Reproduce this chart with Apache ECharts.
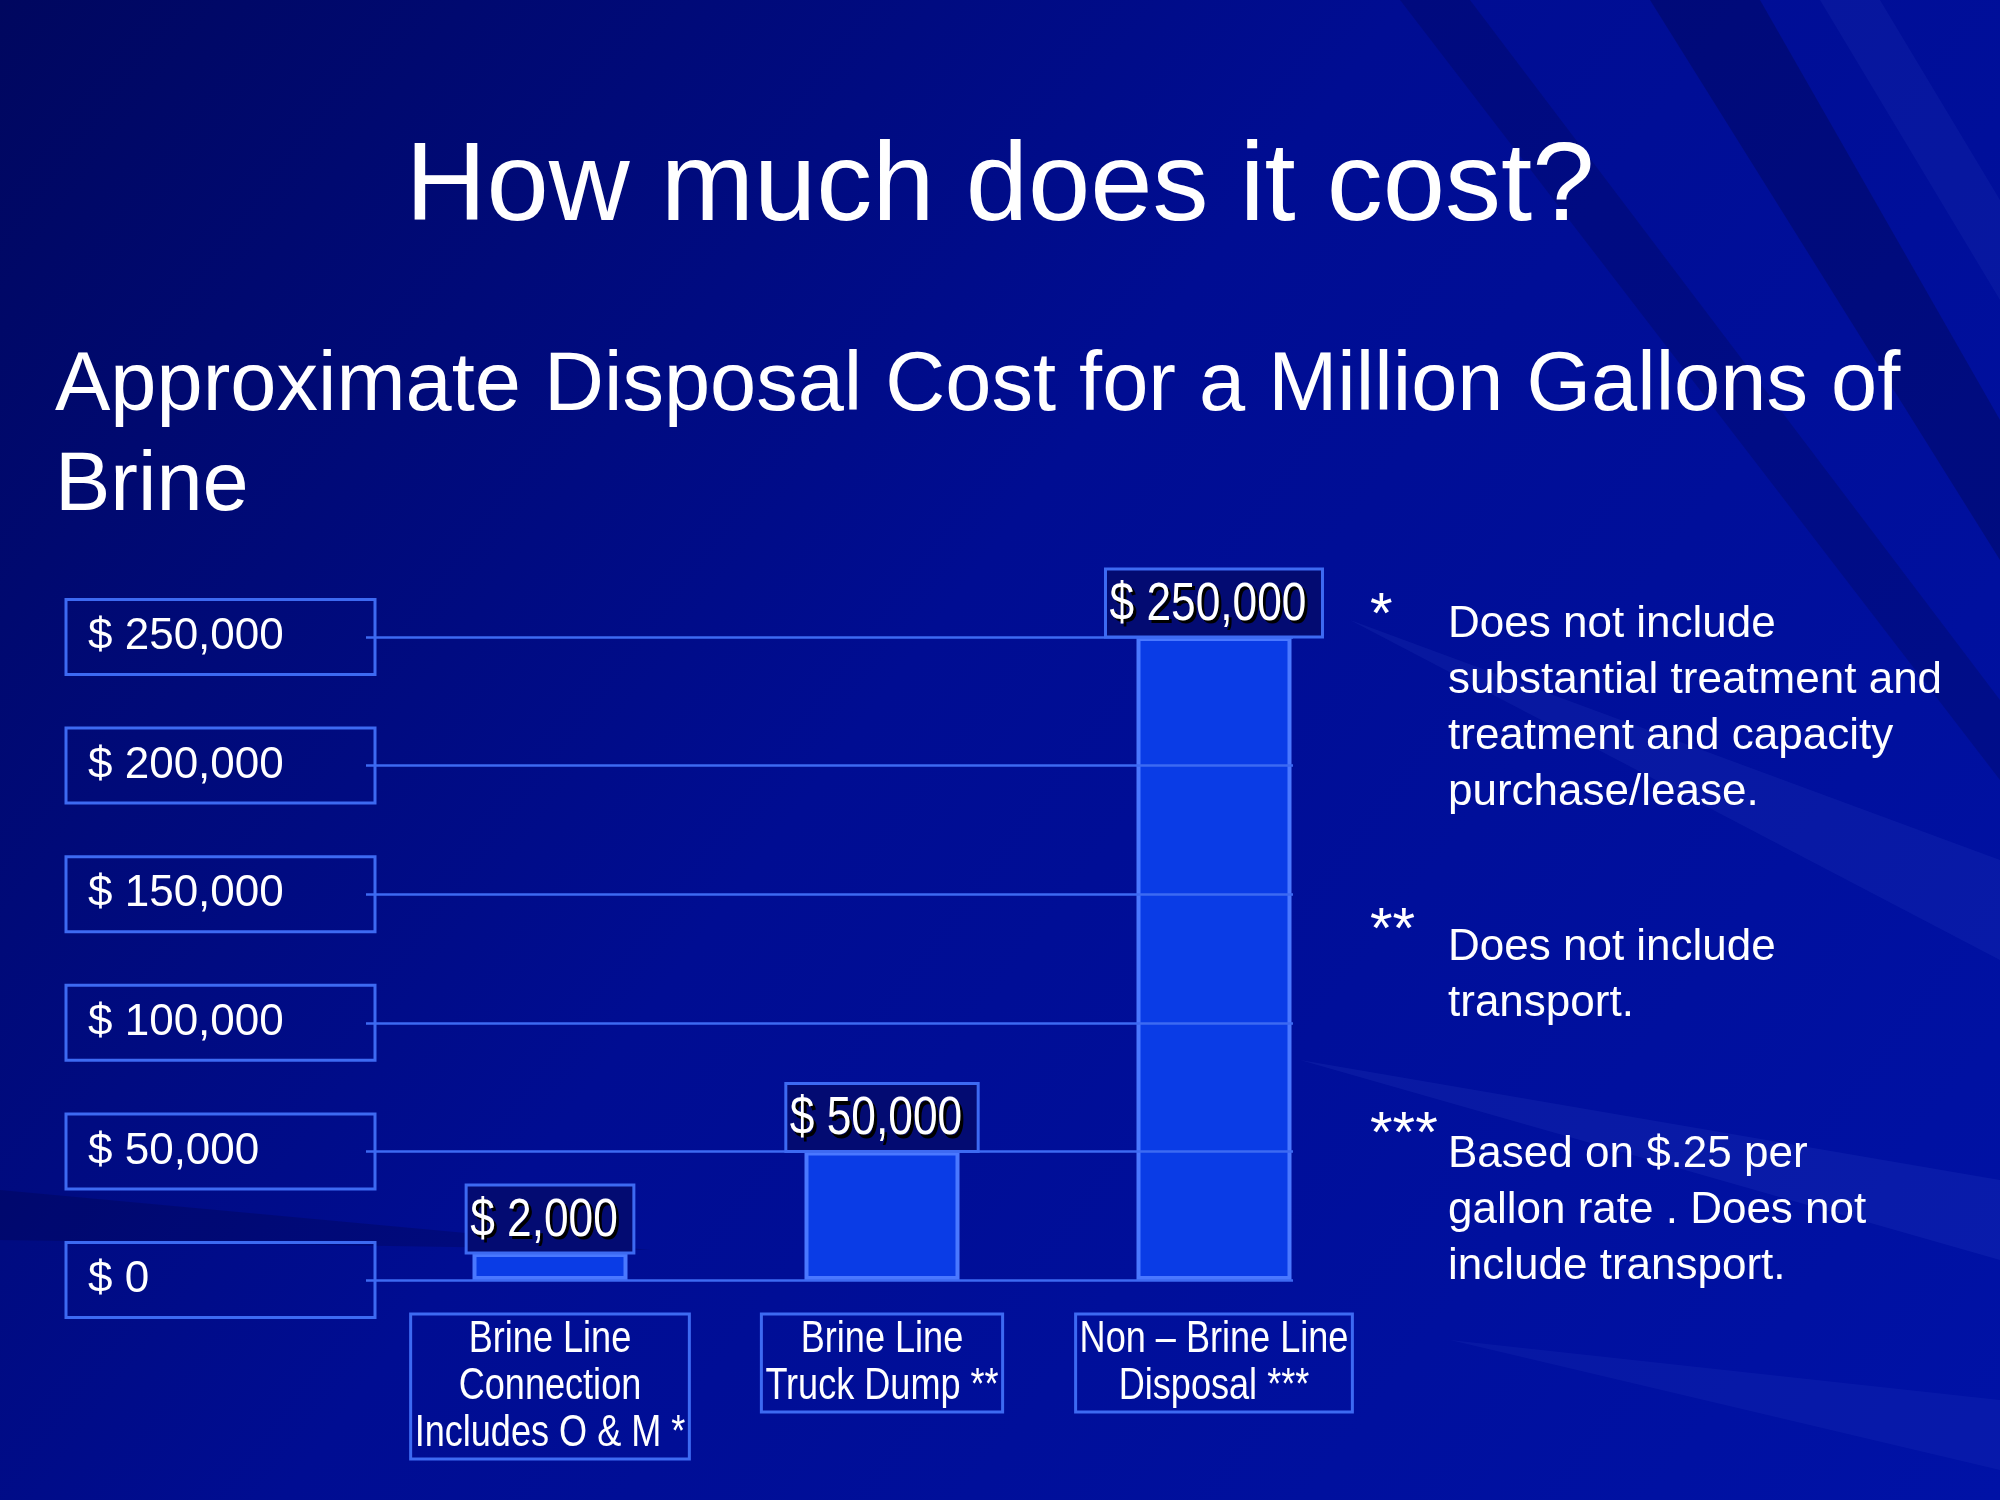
<!DOCTYPE html>
<html>
<head>
<meta charset="utf-8">
<title>How much does it cost?</title>
<script src="https://cdn.jsdelivr.net/npm/echarts@6/dist/echarts.min.js"></script>
<style>
  html, body { margin: 0; padding: 0; background: #000c8c; }
  #chart { width: 2000px; height: 1500px; }
</style>
</head>
<body>
<div id="chart"></div>
<script>
// data
const categories = [
  'Brine Line\nConnection\nIncludes O & M *',
  'Brine Line\nTruck Dump **',
  'Non \u2013 Brine Line\nDisposal ***'
];
const costs = [2000, 50000, 250000];
const yTicks = [0, 50000, 100000, 150000, 200000, 250000];
const yTickLabels = ['$ 0', '$ 50,000', '$ 100,000', '$ 150,000', '$ 200,000', '$ 250,000'];

const titleText = 'How much does it cost?';
const subtitleText = 'Approximate Disposal Cost for a Million Gallons of\nBrine';
const noteMarks = ['*', '**', '***'];
const noteTexts = [
  'Does not include\nsubstantial treatment and\ntreatment and capacity\npurchase/lease.',
  'Does not include\ntransport.',
  'Based on $.25 per\ngallon rate . Does not\ninclude transport.'
];

const SANS = '"Liberation Sans", Arial, Helvetica, sans-serif';
const LINE = '#3d6af2';
const NARROW = 0.82;      // squeeze Liberation Sans to look like Arial Narrow
const MIN_BAR = 27;       // the tiny bar is drawn taller on the slide

// text measuring for the boxed labels
const measureCtx = document.createElement('canvas').getContext('2d');
function textWidth(str, size) {
  measureCtx.font = size + 'px ' + SANS;
  return measureCtx.measureText(str).width * NARROW;
}
function money(v) {
  return '$ ' + v.toLocaleString('en-US');
}

const chart = echarts.init(document.getElementById('chart'));

// soft light / dark streaks in the background
const streaks = [
  { pts: [[1650, 0], [1760, 0], [2000, 420], [2000, 560]], fill: 'rgba(0,0,40,0.25)' },
  { pts: [[1400, 0], [1470, 0], [2000, 700], [2000, 780]], fill: 'rgba(0,0,40,0.18)' },
  { pts: [[1820, 0], [1880, 0], [2000, 200], [2000, 300]], fill: 'rgba(120,150,255,0.06)' },
  { pts: [[2000, 860], [2000, 960], [1350, 620]], fill: 'rgba(120,150,255,0.07)' },
  { pts: [[2000, 1180], [2000, 1260], [1300, 1060]], fill: 'rgba(120,150,255,0.08)' },
  { pts: [[2000, 1400], [2000, 1470], [1450, 1340]], fill: 'rgba(120,150,255,0.06)' },
  { pts: [[0, 1190], [0, 1240], [650, 1250]], fill: 'rgba(0,0,40,0.2)' }
].map(function (s) {
  return {
    type: 'polygon',
    silent: true,
    z: -10,
    shape: { points: s.pts },
    style: { fill: s.fill }
  };
});

// footnotes on the right
const notes = [];
const markTops = [582, 897, 1101];
const noteTops = [597, 920, 1127];
noteMarks.forEach(function (m, i) {
  notes.push({
    type: 'text', left: 1370, top: markTops[i], silent: true,
    style: { text: m, fill: '#fff', font: '58px ' + SANS, lineHeight: 70 }
  });
  notes.push({
    type: 'text', left: 1448, top: noteTops[i], silent: true,
    style: { text: noteTexts[i], fill: '#fff', font: '44px ' + SANS, lineHeight: 56 }
  });
});

// boxed value label sitting on top of each bar
function renderValueLabel(params, api) {
  const i = api.value(0);
  const v = api.value(1);
  const base = api.coord([i, 0]);
  const top = api.coord([i, v]);
  const barTop = Math.min(top[1], base[1] - MIN_BAR);
  const str = money(v);
  const w = textWidth(str, 54) + 20;
  const h = 68;
  const left = base[0] - w / 2;
  const y0 = barTop - h;
  const textStyle = { text: str, x: 0, y: 0, font: '54px ' + SANS, align: 'left', verticalAlign: 'middle' };
  return {
    type: 'group',
    children: [
      {
        type: 'rect',
        shape: { x: left, y: y0, width: w, height: h },
        style: { fill: '#030b72', stroke: LINE, lineWidth: 3 }
      },
      {
        type: 'group', x: left + 4, y: y0 + h / 2 + 2, scaleX: NARROW,
        children: [
          { type: 'text', x: 3.5, y: 3.5, style: Object.assign({}, textStyle, { fill: '#000' }) },
          { type: 'text', style: Object.assign({}, textStyle, { fill: '#fff' }) }
        ]
      }
    ]
  };
}

// boxed category label under each bar
function renderCategoryLabel(params, api) {
  const i = api.value(0);
  const base = api.coord([i, 0]);
  const lines = categories[i].split('\n');
  const lh = 47;
  let maxW = 0;
  lines.forEach(function (l) { maxW = Math.max(maxW, textWidth(l, 44)); });
  const w = maxW + 8;
  const h = lines.length * lh + 4;
  const y0 = base[1] + 34;
  return {
    type: 'group',
    children: [
      {
        type: 'rect',
        shape: { x: base[0] - w / 2, y: y0, width: w, height: h },
        style: { fill: 'transparent', stroke: LINE, lineWidth: 3 }
      },
      {
        type: 'group', x: base[0], y: y0 + 2, scaleX: NARROW,
        children: [{
          type: 'text',
          style: {
            text: categories[i], x: 0, y: 0, fill: '#fff', font: '44px ' + SANS,
            lineHeight: lh, align: 'center', verticalAlign: 'top'
          }
        }]
      }
    ]
  };
}

const option = {
  backgroundColor: {
    type: 'linear', x: 0, y: 0, x2: 1, y2: 1,
    colorStops: [
      { offset: 0, color: '#00075f' },
      { offset: 0.45, color: '#000d92' },
      { offset: 1, color: '#0012a6' }
    ]
  },
  title: [
    {
      text: titleText,
      left: 'center',
      top: 128,
      textStyle: { color: '#fff', fontSize: 112, fontWeight: 'normal', fontFamily: SANS }
    },
    {
      text: subtitleText,
      left: 50,
      top: 332,
      textStyle: { color: '#fff', fontSize: 83, lineHeight: 100, fontWeight: 'normal', fontFamily: SANS }
    }
  ],
  graphic: streaks.concat(notes),
  grid: [
    { left: 366, right: 707, top: 637, bottom: 220 },
    { left: 384, right: 620, top: 637, bottom: 220 }
  ],
  xAxis: [
    { type: 'value', gridIndex: 0, show: false },
    {
      type: 'category',
      gridIndex: 1,
      data: categories,
      axisLine: { show: false },
      axisTick: { show: false },
      axisLabel: { show: false }
    }
  ],
  yAxis: [
    {
      type: 'value',
      gridIndex: 0,
      min: 0,
      max: 250000,
      interval: 50000,
      z: 5,
      axisLine: { show: false },
      axisTick: { show: false },
      splitLine: { lineStyle: { color: LINE, width: 2.5 } },
      axisLabel: {
        align: 'left',
        margin: 300,
        color: '#fff',
        fontSize: 44,
        fontFamily: SANS,
        width: 287,
        lineHeight: 75,
        padding: [0, 0, 0, 22],
        borderColor: LINE,
        borderWidth: 3,
        formatter: function (v) {
          const i = yTicks.indexOf(v);
          return i >= 0 ? yTickLabels[i] : '';
        }
      }
    },
    { type: 'value', gridIndex: 1, min: 0, max: 250000, show: false }
  ],
  series: [
    {
      type: 'bar',
      xAxisIndex: 1,
      yAxisIndex: 1,
      data: costs,
      barWidth: 155,
      barMinHeight: MIN_BAR,
      itemStyle: { color: '#0a3ce6', borderColor: '#4a78ff', borderWidth: 4 }
    },
    {
      type: 'custom',
      xAxisIndex: 1,
      yAxisIndex: 1,
      z: 10,
      clip: false,
      silent: true,
      data: costs.map(function (v, i) { return [i, v]; }),
      renderItem: renderValueLabel
    },
    {
      type: 'custom',
      xAxisIndex: 1,
      yAxisIndex: 1,
      z: 10,
      clip: false,
      silent: true,
      data: costs.map(function (v, i) { return [i, v]; }),
      renderItem: renderCategoryLabel
    }
  ]
};

option && chart.setOption(option);
</script>
</body>
</html>
